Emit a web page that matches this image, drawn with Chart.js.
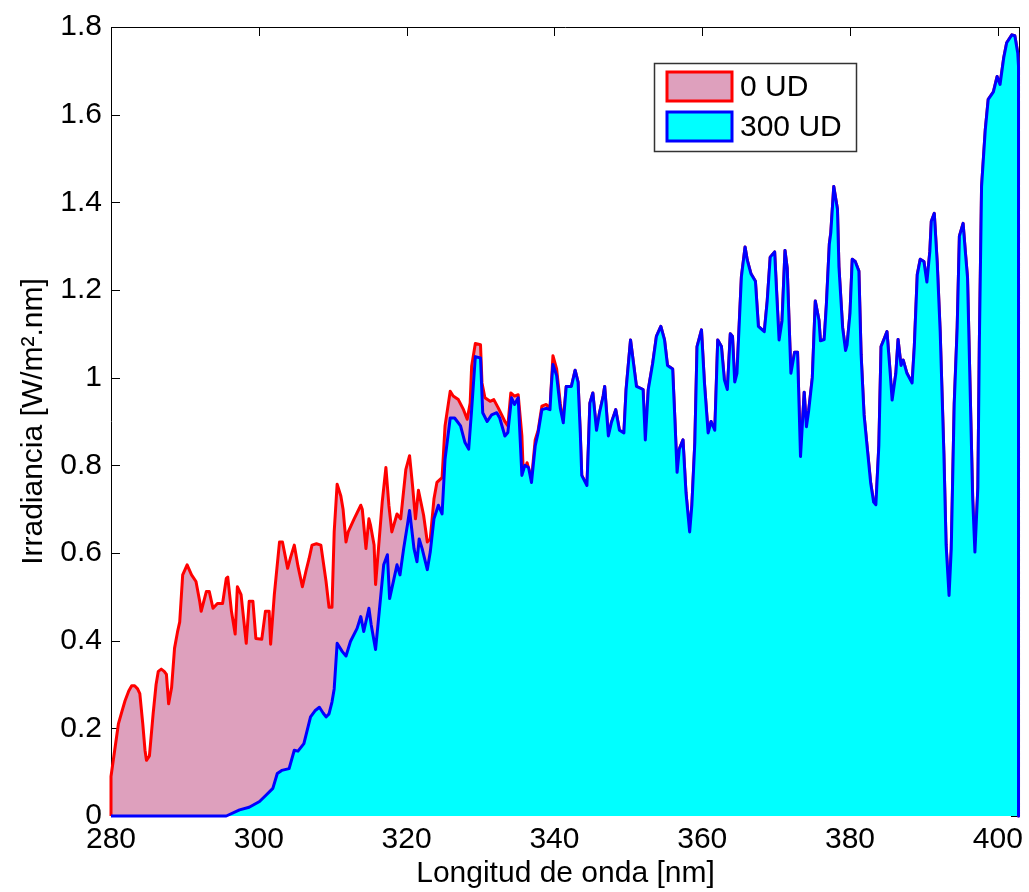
<!DOCTYPE html>
<html>
<head>
<meta charset="utf-8">
<script src="https://cdn.jsdelivr.net/npm/chart.js@4/dist/chart.umd.min.js"></script>
<style>
  html, body { margin: 0; padding: 0; background: #fff; }
  #wrap { width: 1029px; height: 892px; }
</style>
</head>
<body>
<div id="wrap"><canvas id="chart"></canvas></div>
<script>
// Spectral irradiance, 0 UD (red) up to where it merges with 300 UD
const wl0 = [
  280, 280, 280.5, 281, 281.5, 281.9, 282.4, 282.8, 283.2, 283.6, 283.9, 284.3, 284.6, 284.8,
  285.2, 285.7, 286.1, 286.4, 286.8, 287.2, 287.5, 287.8, 288.2, 288.6, 289, 289.3, 289.7,
  290.3, 290.9, 291.5, 292, 292.2, 292.9, 293.3, 293.8, 294.4, 295.1, 295.6, 295.8, 296.3,
  296.8, 297.1, 297.6, 298.3, 298.7, 299.2, 299.6, 300.4, 300.9, 301.4, 301.6, 302.1, 302.8,
  303.2, 303.9, 304.3, 304.8, 305.3, 305.9, 306.4, 306.8, 307.2, 307.8, 308.4, 309.1, 309.5,
  309.9, 310.2, 310.6, 311.1, 311.4, 311.8, 312.1, 312.9, 313.8, 314, 314.5, 314.9, 315.1,
  315.6, 315.8, 316.3, 316.7, 317.2, 317.6, 318, 318.7, 319.2, 319.9, 320.4, 320.8, 321.2,
  321.6, 322.3, 322.8, 323.2, 323.7, 324.1, 324.8, 325.2, 325.9, 326.3, 327, 327.7, 328.2,
  328.6, 328.8, 329.3, 330, 330.2, 330.6, 331.3, 331.8, 332.4, 333.3, 333.7, 334.1, 334.6,
  335.1, 335.6, 335.8, 336.3, 336.9, 337.4, 337.8, 338.3, 338.9, 339.4, 339.6, 339.8, 340.3,
  340.8, 341.2
]
const irr0 = [
  0, 0.09, 0.15, 0.21, 0.24, 0.263, 0.285, 0.297, 0.297, 0.29, 0.279, 0.21, 0.15, 0.127,
  0.137, 0.233, 0.30, 0.33, 0.335, 0.33, 0.323, 0.256, 0.293, 0.383, 0.42, 0.443, 0.55,
  0.573, 0.55, 0.535, 0.49, 0.467, 0.512, 0.512, 0.474, 0.485, 0.485, 0.542, 0.545, 0.467,
  0.415, 0.523, 0.505, 0.394, 0.49, 0.49, 0.405, 0.403, 0.467, 0.467, 0.392, 0.505, 0.625,
  0.625, 0.565, 0.59, 0.618, 0.57, 0.523, 0.56, 0.587, 0.618, 0.621, 0.618, 0.535, 0.476,
  0.476, 0.648, 0.757, 0.73, 0.70, 0.625, 0.648, 0.678, 0.709, 0.70, 0.61, 0.678, 0.665,
  0.618, 0.528, 0.632, 0.716, 0.795, 0.709, 0.648, 0.689, 0.678, 0.791, 0.822, 0.754, 0.678,
  0.743, 0.686, 0.625, 0.632, 0.723, 0.761, 0.772, 0.89, 0.969, 0.958, 0.95, 0.927, 0.905,
  0.942, 1.026, 1.078, 1.075, 0.988, 0.954, 0.946, 0.95, 0.931, 0.90, 0.89, 0.965, 0.958,
  0.961, 0.867, 0.777, 0.806, 0.768, 0.858, 0.88, 0.935, 0.939, 0.93, 0.99, 1.05, 1.02,
  0.94, 0.90
]

// Spectral irradiance, 300 UD (blue), full range
const wl300 = [
  280, 295.6, 297.4, 298.7, 300.1, 301, 301.9, 302.5, 303.1, 304.1, 304.8, 305.3, 306.1, 307,
  307.6, 308.2, 308.7, 309.1, 309.5, 309.9, 310.2, 310.6, 311.3, 311.8, 312.4, 313.3, 313.8,
  314.2, 314.9, 315.2, 315.8, 316.3, 316.9, 317.4, 317.7, 318.3, 318.7, 319.1, 319.6, 320.1,
  320.4, 321, 321.4, 321.7, 322.1, 322.8, 323.2, 323.7, 324.3, 324.8, 325.2, 325.9, 326.5,
  327.3, 327.9, 328.4, 328.8, 329.3, 330, 330.3, 330.9, 331.5, 332.2, 332.6, 333.3, 333.7,
  334.2, 334.6, 335.1, 335.6, 336, 336.5, 336.9, 337.4, 337.8, 338.3, 338.9, 339.4, 339.6,
  339.8, 340.3, 340.8, 341.2, 341.6, 342.3, 342.8, 343.2, 343.5, 343.7, 344.4, 344.6, 344.8,
  345.2, 345.7, 346.1, 346.6, 346.8, 347.3, 347.7, 348.3, 348.8, 349.4, 349.7, 350.3, 350.7,
  351.1, 352, 352.3, 352.7, 353.3, 353.8, 354.4, 354.9, 355.3, 356, 356.3, 356.6, 356.9,
  357.4, 357.8, 358.3, 358.6, 359, 359.3, 359.9, 360.3, 360.8, 361.2, 361.7, 362.1, 362.6,
  363, 363.4, 363.8, 364.1, 364.4, 364.7, 365, 365.3, 365.8, 366.1, 366.6, 367.2, 367.6,
  368.4, 368.8, 369.2, 369.8, 370.1, 370.4, 370.8, 371.2, 371.5, 371.8, 372, 372.5, 372.9,
  373.1, 373.3, 373.8, 374.1, 374.4, 374.9, 375.3, 375.8, 376, 376.5, 376.8, 377.2, 377.4,
  377.8, 378.3, 378.5, 379, 379.4, 379.6, 380, 380.3, 380.7, 381.2, 381.5, 381.9, 382.3,
  382.8, 383.2, 383.5, 383.9, 384.2, 384.7, 385, 385.4, 385.7, 386.2, 386.5, 386.9, 387.2,
  387.7, 388.4, 388.7, 389.1, 389.5, 390, 390.4, 390.8, 391, 391.4, 391.8, 392.2, 392.7,
  393, 393.4, 393.7, 394.1, 394.5, 394.8, 395.3, 395.6, 395.9, 396.3, 396.6, 396.9, 397.3,
  397.5, 397.8, 398.3, 398.7, 399.4, 399.9, 400.3, 400.8, 401.2, 401.9, 402.3, 402.7, 402.8,
  402.8
]
const irr300 = [
  0, 0, 0.014, 0.02, 0.033, 0.048, 0.063, 0.097, 0.104, 0.108, 0.15, 0.148, 0.165, 0.226,
  0.24, 0.248, 0.235, 0.226, 0.233, 0.26, 0.29, 0.394, 0.375, 0.365, 0.398, 0.428, 0.455,
  0.421, 0.474, 0.437, 0.38, 0.467, 0.573, 0.596, 0.496, 0.542, 0.573, 0.55, 0.61, 0.663,
  0.697, 0.61, 0.58, 0.632, 0.61, 0.562, 0.602, 0.678, 0.709, 0.689, 0.814, 0.908, 0.908,
  0.89, 0.852, 0.837, 0.927, 1.048, 1.045, 0.92, 0.90, 0.915, 0.92, 0.908, 0.867, 0.875,
  0.954, 0.939, 0.954, 0.777, 0.80, 0.795, 0.761, 0.844, 0.875, 0.927, 0.93, 0.927, 0.985,
  1.03, 1.005, 0.93, 0.897, 0.98, 0.98, 1.017, 0.99, 0.874, 0.777, 0.754, 0.844, 0.942,
  0.965, 0.88, 0.92, 0.958, 0.98, 0.867, 0.897, 0.927, 0.88, 0.874, 0.973, 1.086, 1.033,
  0.98, 0.973, 0.858, 0.973, 1.033, 1.094, 1.117, 1.086, 1.028, 1.02, 0.905, 0.784, 0.837,
  0.858, 0.738, 0.648, 0.709, 0.852, 1.071, 1.109, 0.988, 0.874, 0.90, 0.88, 1.086, 1.071,
  0.995, 0.973, 1.10, 1.094, 0.99, 1.01, 1.12, 1.23, 1.298, 1.268, 1.237, 1.22, 1.117,
  1.105, 1.176, 1.275, 1.287, 1.185, 1.086, 1.13, 1.29, 1.25, 1.105, 1.01, 1.058, 1.058,
  0.94, 0.82, 0.967, 0.888, 0.924, 1.0, 1.175, 1.131, 1.084, 1.087, 1.166, 1.305, 1.331,
  1.436, 1.384, 1.253, 1.114, 1.062, 1.075, 1.148, 1.27, 1.265, 1.243, 1.053, 0.915, 0.845,
  0.759, 0.716, 0.71, 0.845, 1.071, 1.092, 1.105, 1.019, 0.949, 1.01, 1.087, 1.028, 1.04,
  1.01, 0.988, 1.071, 1.235, 1.27, 1.265, 1.218, 1.288, 1.357, 1.375, 1.262, 1.105, 0.827,
  0.619, 0.503, 0.61, 0.94, 1.114, 1.323, 1.352, 1.288, 1.228, 0.94, 0.723, 0.602, 0.75,
  1.079, 1.436, 1.565, 1.635, 1.652, 1.687, 1.669, 1.73, 1.764, 1.782, 1.78, 1.74, 1.71,
  0
]

const seriesLabels = ["0 UD", "300 UD"]
const xTicks = [280, 300, 320, 340, 360, 380, 400]
const yTicks = [0, 0.2, 0.4, 0.6, 0.8, 1, 1.2, 1.4, 1.6, 1.8]

const FONT = { family: "'Liberation Sans', Arial, sans-serif", size: 30 }

const toPoints = (xs, ys) => xs.map((x, i) => ({ x: x, y: ys[i] }))

// above ~341 nm both curves coincide, so the red one continues on the blue readings
const pts300 = toPoints(wl300, irr300)
const lastRed = wl0[wl0.length - 1]
const pts0 = toPoints(wl0, irr0).concat(pts300.filter(p => p.x > lastRed))

// MATLAB-like box with inward ticks, drawn under the data
const axesBox = {
  id: "axesBox",
  beforeDatasetsDraw(chart) {
    const { ctx, chartArea: { left, right, top, bottom }, scales: { x, y } } = chart
    const len = 9
    ctx.save()
    ctx.strokeStyle = "#000"
    ctx.lineWidth = 1
    ctx.beginPath()
    x.ticks.forEach(t => {
      const px = Math.round(x.getPixelForValue(t.value)) + 0.5
      ctx.moveTo(px, bottom); ctx.lineTo(px, bottom - len)
      ctx.moveTo(px, top); ctx.lineTo(px, top + len)
    })
    y.ticks.forEach(t => {
      const py = Math.round(y.getPixelForValue(t.value)) + 0.5
      ctx.moveTo(left, py); ctx.lineTo(left + len, py)
      ctx.moveTo(right, py); ctx.lineTo(right - len, py)
    })
    ctx.rect(left + 0.5, top + 0.5, right - left - 1, bottom - top - 1)
    ctx.stroke()
    ctx.restore()
  }
}

// legend box inside the axes, top right
const boxLegend = {
  id: "boxLegend",
  afterDraw(chart) {
    const ctx = chart.ctx
    const bx = 654, by = 63, bw = 202, bh = 88
    ctx.save()
    ctx.fillStyle = "#fff"
    ctx.fillRect(bx, by, bw, bh)
    ctx.strokeStyle = "#333"
    ctx.lineWidth = 1.5
    ctx.strokeRect(bx + 0.5, by + 0.5, bw, bh)
    ctx.font = FONT.size + "px " + FONT.family
    ctx.textBaseline = "middle"
    ctx.textAlign = "left"
    chart.data.datasets.forEach((ds, i) => {
      const sy = by + 9 + i * 40
      ctx.fillStyle = ds.backgroundColor
      ctx.fillRect(bx + 13, sy, 65, 29)
      ctx.strokeStyle = ds.borderColor
      ctx.lineWidth = 3
      ctx.strokeRect(bx + 13, sy, 65, 29)
      ctx.fillStyle = "#000"
      ctx.fillText(ds.label, bx + 86, sy + 16)
    })
    ctx.restore()
  }
}

new Chart(document.getElementById("chart"), {
  type: "line",
  data: {
    datasets: [
      {
        label: seriesLabels[0],
        data: pts0,
        borderColor: "#ff0000",
        backgroundColor: "rgb(222, 160, 189)",
        fill: "origin",
        clip: 4,
        order: 2
      },
      {
        label: seriesLabels[1],
        data: pts300,
        borderColor: "#0000ff",
        backgroundColor: "#00ffff",
        fill: "origin",
        clip: 4,
        order: 1
      }
    ]
  },
  options: {
    responsive: true,
    maintainAspectRatio: false,
    animation: false,
    layout: { padding: { left: 0, top: 21, right: 6, bottom: 0 } },
    elements: {
      line: { borderWidth: 3, tension: 0, borderJoinStyle: "round" },
      point: { radius: 0 }
    },
    scales: {
      x: {
        type: "linear",
        min: 280,
        max: 403,
        afterBuildTicks: scale => { scale.ticks = xTicks.map(v => ({ value: v })) },
        afterFit: scale => { scale.height = 76 },
        ticks: { font: FONT, color: "#000", padding: 6, maxRotation: 0 },
        grid: { display: false, drawTicks: false },
        border: { display: false },
        title: {
          display: true,
          text: "Longitud de onda [nm]",
          font: FONT,
          color: "#000",
          padding: { top: 0, bottom: 0 }
        }
      },
      y: {
        type: "linear",
        min: 0,
        max: 1.8,
        afterBuildTicks: scale => { scale.ticks = yTicks.map(v => ({ value: v })) },
        afterFit: scale => { scale.width = 111 },
        ticks: { font: FONT, color: "#000", padding: 9, callback: v => String(v) },
        grid: { display: false, drawTicks: false },
        border: { display: false },
        title: {
          display: true,
          text: "Irradiancia [W/m².nm]",
          font: FONT,
          color: "#000",
          padding: { top: 16, bottom: 0 }
        }
      }
    },
    plugins: {
      legend: { display: false },
      tooltip: { enabled: false }
    }
  },
  plugins: [axesBox, boxLegend]
})
</script>
</body>
</html>
